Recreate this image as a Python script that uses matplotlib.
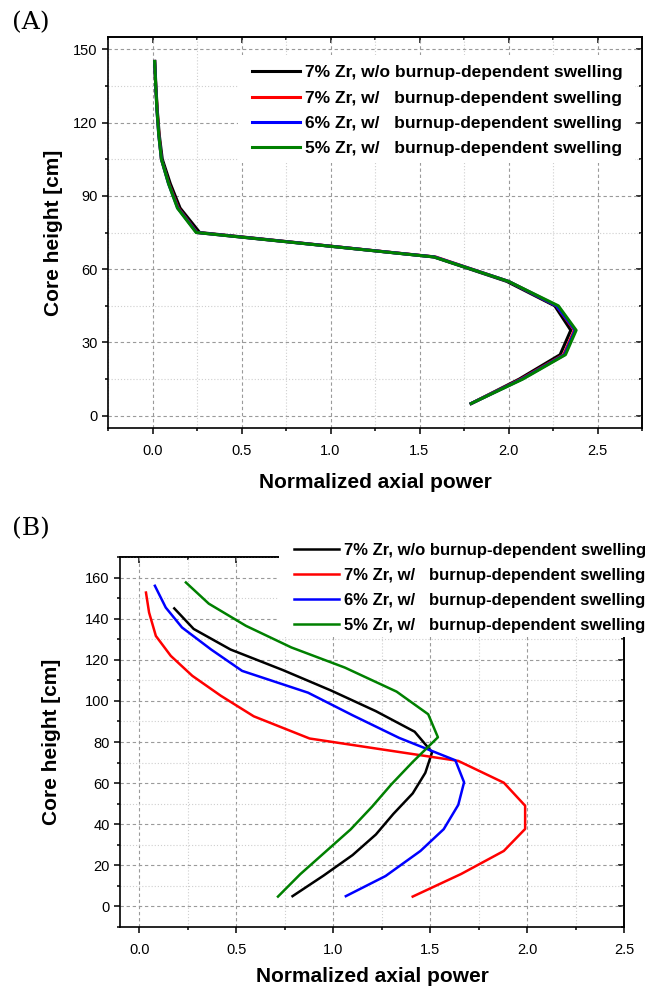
import matplotlib
matplotlib.use("Agg")
import matplotlib.pyplot as plt
from matplotlib.ticker import MultipleLocator
from matplotlib.patches import Rectangle
from matplotlib.lines import Line2D

plt.rcParams['font.family'] = ['Liberation Sans', 'DejaVu Sans']

# ---------------- data ----------------
labels = ["7% Zr, w/o burnup-dependent swelling",
          "7% Zr, w/   burnup-dependent swelling",
          "6% Zr, w/   burnup-dependent swelling",
          "5% Zr, w/   burnup-dependent swelling"]
colors = ["black", "#ff0000", "#0000ff", "#008000"]

# Panel A
a_height = [5, 15, 25, 35, 45, 55, 65, 75, 85, 95, 105, 115, 125, 135, 145]
a_7_wo = [1.79, 2.06, 2.29, 2.35, 2.26, 1.99, 1.58, 0.265, 0.155, 0.10, 0.055, 0.038, 0.027, 0.019, 0.013]
a_7_w = [1.79, 2.07, 2.31, 2.37, 2.27, 2.00, 1.59, 0.25, 0.145, 0.092, 0.05, 0.036, 0.026, 0.018, 0.012]
a_6_w = [1.79, 2.075, 2.315, 2.375, 2.27, 2.00, 1.585, 0.248, 0.142, 0.09, 0.05, 0.035, 0.025, 0.018, 0.012]
a_5_w = [1.79, 2.08, 2.32, 2.38, 2.28, 2.00, 1.58, 0.245, 0.14, 0.09, 0.05, 0.035, 0.025, 0.018, 0.012]

# Panel B
b_7_wo_h = [5, 15, 25, 35, 45, 55, 65, 75, 85, 95, 105, 115, 125, 135, 145]
b_7_wo = [0.79, 0.95, 1.10, 1.22, 1.31, 1.41, 1.475, 1.51, 1.42, 1.22, 0.99, 0.74, 0.47, 0.28, 0.18]
b_7_w_h = [4.8, 15.8, 27, 37.7, 49, 60.2, 70.8, 81.7, 92.5, 102.5, 112.2, 121.9, 131.6, 143, 152.7]
b_7_w = [1.41, 1.66, 1.88, 1.99, 1.99, 1.88, 1.645, 0.878, 0.59, 0.42, 0.273, 0.162, 0.085, 0.05, 0.034]
b_6_w_h = [5, 14.8, 27, 37.6, 49.4, 60.4, 71.1, 82, 93, 104, 114.6, 125, 135.7, 145.4, 156]
b_6_w = [1.065, 1.27, 1.45, 1.57, 1.645, 1.675, 1.63, 1.34, 1.10, 0.87, 0.53, 0.37, 0.22, 0.136, 0.08]
b_5_w_h = [4.8, 15.7, 26.6, 37.5, 48.5, 59.4, 70.3, 82.3, 93.5, 104.5, 116.2, 126, 136.5, 147.3, 157.6]
b_5_w = [0.715, 0.83, 0.96, 1.09, 1.20, 1.30, 1.41, 1.54, 1.49, 1.327, 1.06, 0.784, 0.55, 0.358, 0.24]

W, H = 650, 989
fig = plt.figure(figsize=(W / 100, H / 100), dpi=100)


def fr(x0, x1, ytop, ybot):
    return [x0 / W, 1 - ybot / H, (x1 - x0) / W, (ybot - ytop) / H]


def style(ax, xmaj, xmin, ymaj, ymin, xlpad, ylpad):
    ax.xaxis.set_major_locator(MultipleLocator(xmaj))
    ax.xaxis.set_minor_locator(MultipleLocator(xmin))
    ax.yaxis.set_major_locator(MultipleLocator(ymaj))
    ax.yaxis.set_minor_locator(MultipleLocator(ymin))
    ax.grid(True, which='major', color='#9a9a9a', linestyle=(0, (3, 2.5)), linewidth=0.8)
    ax.grid(True, which='minor', color='#cfcfcf', linestyle=(0, (1, 1.8)), linewidth=0.8)
    ax.set_axisbelow(True)
    for s in ax.spines.values():
        s.set_linewidth(1.2)
    ax.tick_params(which='both', direction='out', width=1.1, labelsize=10.5, colors='black')
    ax.tick_params(which='major', length=4.5)
    ax.tick_params(which='minor', length=2.5)
    ax.tick_params(axis='x', pad=7)
    ax.tick_params(axis='y', pad=3)
    secx = ax.secondary_xaxis('top')
    secx.xaxis.set_major_locator(MultipleLocator(xmaj))
    secx.xaxis.set_minor_locator(MultipleLocator(xmin))
    secx.tick_params(which='both', direction='in', width=1.1, labeltop=False)
    secx.tick_params(which='major', length=4.5)
    secx.tick_params(which='minor', length=2.5)
    secx.spines['top'].set_linewidth(1.2)
    secy = ax.secondary_yaxis('right')
    secy.yaxis.set_major_locator(MultipleLocator(ymaj))
    secy.yaxis.set_minor_locator(MultipleLocator(ymin))
    secy.tick_params(which='both', direction='in', width=1.1, labelright=False)
    secy.tick_params(which='major', length=4.5)
    secy.tick_params(which='minor', length=2.5)
    secy.spines['right'].set_linewidth(1.2)
    ax.set_xlabel("Normalized axial power", fontsize=15, fontweight='bold', labelpad=xlpad)
    ax.set_ylabel("Core height [cm]", fontsize=15, fontweight='bold', labelpad=ylpad)


# ---------------- Panel A ----------------
axA = fig.add_axes(fr(108, 642, 37, 428))
a_series = [a_7_wo, a_7_w, a_6_w, a_5_w]
for xs, c in zip(a_series, colors):
    axA.plot(xs, a_height, color=c, lw=2.2)
axA.set_xlim(-0.25, 2.75)
axA.set_ylim(-5, 155)
style(axA, 0.5, 0.25, 30, 15, 11, 7)

# ---------------- Panel B ----------------
axB = fig.add_axes(fr(120, 624, 557, 927))
b_series = [(b_7_wo, b_7_wo_h), (b_7_w, b_7_w_h), (b_6_w, b_6_w_h), (b_5_w, b_5_w_h)]
for (xs, ys), c in zip(b_series, colors):
    axB.plot(xs, ys, color=c, lw=1.8)
axB.set_xlim(-0.1, 2.5)
axB.set_ylim(-10, 170)
style(axB, 0.5, 0.25, 20, 10, 7, 17)

# legend backgrounds (figure level, drawn above axes)
fig.add_artist(Rectangle((238 / W, 1 - 163 / H), (635 - 238) / W, (163 - 55) / H,
                         transform=fig.transFigure, facecolor='white', edgecolor='none', zorder=1))
fig.add_artist(Rectangle((279 / W, 1 - 637 / H), (650 - 279) / W, (637 - 530) / H,
                         transform=fig.transFigure, facecolor='white', edgecolor='none', zorder=1))

hA = [Line2D([], [], color=c, lw=2.2) for c in colors]
fig.legend(hA, labels, loc='upper left', bbox_to_anchor=(247 / W, 1 - 60 / H),
           bbox_transform=fig.transFigure, frameon=False,
           prop={'weight': 'bold', 'size': 12.5}, handlelength=2.75, handletextpad=0.3,
           labelspacing=0.58, borderpad=0.3, borderaxespad=0)
hB = [Line2D([], [], color=c, lw=1.8) for c in colors]
fig.legend(hB, labels, loc='upper left', bbox_to_anchor=(289 / W, 1 - 538 / H),
           bbox_transform=fig.transFigure, frameon=False,
           prop={'weight': 'bold', 'size': 12}, handlelength=2.7, handletextpad=0.3,
           labelspacing=0.6, borderpad=0.3, borderaxespad=0)

fig.text(12 / W, 1 - 23 / H, "(A)", family='DejaVu Serif', fontsize=18, va='center', ha='left')
fig.text(12 / W, 1 - 529 / H, "(B)", family='DejaVu Serif', fontsize=18, va='center', ha='left')

fig.savefig("out.png", dpi=100)
